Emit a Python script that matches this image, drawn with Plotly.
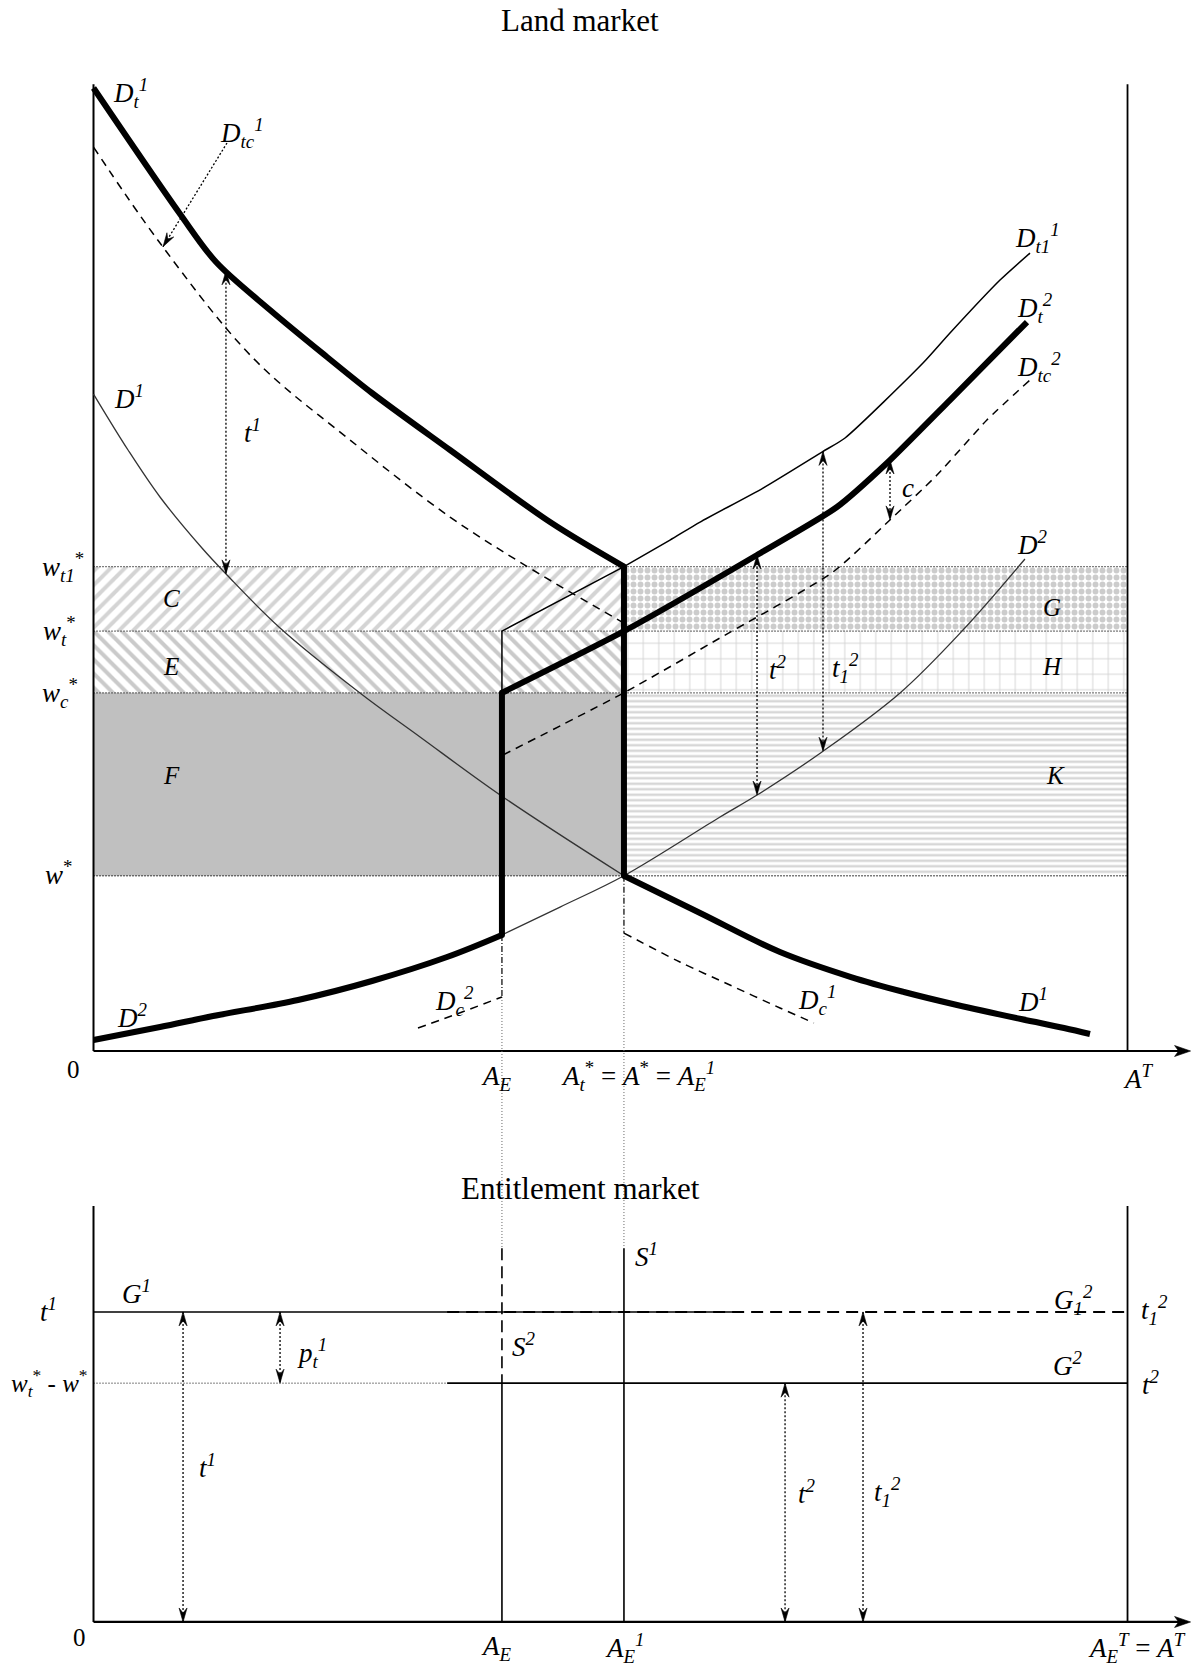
import numpy as np
import plotly.graph_objects as go

# ---------------- model quantities (drawing units) ----------------
A_E = 39.5        # entitlements issued
A_STAR = 51.3     # A_t* = A* = A_E^1
A_T = 100.0       # total land A^T
W_STAR = 18.2     # w*
W_C = 37.2        # w_c*
W_T = 43.6        # w_t*
W_T1 = 50.3       # w_t1*
AXIS_TOP = 100.4
AXIS_END = 106.1

# Land market demand curves
dt1_x = [0, 8.37, 11.85, 17.07, 22.58, 26.93, 34.48, 44.15, A_STAR]
dt1_y = [100.0, 86.92, 81.93, 76.95, 72.07, 68.33, 62.41, 54.93, W_T1]

dtc1_x = [0, 6.43, 15.43, 24.81, 34.48, 42.5, A_STAR]
dtc1_y = [93.87, 83.9, 71.96, 63.45, 55.45, 49.95, 44.44]

d1_x = [0, 3.34, 6.43, 10.49, 12.91, 18.04, 25.77, 31.58, 39.6, A_STAR,
        58.66, 66.39, 73.26, 78.38, 83.51, 89.7, 93.86, 96.37]
d1_y = [68.22, 62.41, 57.53, 52.23, 49.43, 43.93, 37.18, 32.61, 26.38, W_STAR,
        14.33, 10.28, 7.68, 6.13, 4.78, 3.32, 2.39, 1.77]

dc1_x = [A_STAR, 56.71, 61.55, 66.39, 69.67]
dc1_y = [12.25, 9.24, 6.85, 4.47, 2.91]

d2_x = [0, 6.43, 11.56, 19.78, 26.93, 34.19, A_E, 45.12, A_STAR,
        60.59, 64.17, 70.45, 78.0, 84.09, 90.08]
d2_y = [1.14, 2.49, 3.63, 5.3, 7.27, 9.76, 12.05, 14.95, W_STAR,
        24.3, 26.58, 31.05, 37.18, 43.72, 51.09]

dc2_x = [31.38, 35.4, A_E]
dc2_y = [2.39, 3.95, 5.61]

dt2_x = [A_E, A_STAR, 64.17, 71.9, 76.74, 82.83, 90.28]
dt2_y = [W_C, W_T, 51.51, 56.49, 61.06, 67.6, 75.7]

dt11_x = [A_E, A_STAR, 55.75, 58.66, 64.75, 70.45, 72.68, 80.22, 82.83, 87.67, 90.57]
dt11_y = [W_T, W_T1, 53.06, 54.93, 58.46, 62.2, 63.66, 71.44, 74.56, 80.06, 82.86]

dtc2_x = [39.6, A_STAR, 60.59, 71.51, 77.02, 81.57, 86.4, 90.57]
dtc2_y = [30.74, W_C, 42.89, 49.74, 55.14, 59.81, 65.52, 69.68]

# vertical distances marked with arrows (x positions)
ARROW_T1_X = 12.81
ARROW_T2_X = 64.17
ARROW_T12_X = 70.55
ARROW_C_X = 77.03
POINTER_FROM = (12.91, 94.29)
POINTER_TO_X = 6.72

# ---------------- entitlement market ----------------
ENT_BASE = -59.29     # vertical offset of the lower diagram
T1 = 32.2             # t^1 = t_1^2
T2 = 24.8             # t^2 = w_t* - w*
ENT_TOP = 43.2
S_TOP = 38.8
G1_END = 62.2
G12_START = 34.2
ent_arrow_x = {"t1": 8.66, "p": 18.04, "t2": 66.88, "t12": 74.42}

# ---------------- figure frame ----------------
FIG_W, FIG_H = 1203, 1668
X_RANGE = [-9.043, 107.30]
Y_RANGE = [-64.07, 109.14]
PX_X = (X_RANGE[1] - X_RANGE[0]) / FIG_W
PX_Y = (Y_RANGE[1] - Y_RANGE[0]) / FIG_H

FONT = "Liberation Serif"
THICK = 6
fig = go.Figure()


def add_line(x, y, width=1.4, dash="solid", color="black", smooth=None):
    line = dict(width=width, dash=dash, color=color)
    if smooth:
        line.update(shape="spline", smoothing=smooth)
    fig.add_trace(go.Scatter(x=list(x), y=list(y), mode="lines", line=line,
                             hoverinfo="skip", showlegend=False))


def add_joint(x, y, size=THICK):
    fig.add_trace(go.Scatter(x=[x], y=[y], mode="markers",
                             marker=dict(size=size, color="black", line=dict(width=0)),
                             hoverinfo="skip", showlegend=False))


def add_rect(x0, x1, y0, y1, fillcolor=None, pattern=None):
    kw = dict(x=[x0, x1, x1, x0, x0], y=[y0, y0, y1, y1, y0], mode="lines",
              line=dict(width=0, color="rgba(0,0,0,0)"), fill="toself",
              hoverinfo="skip", showlegend=False)
    if pattern:
        kw["fillpattern"] = pattern
        kw["fillcolor"] = "white"
    else:
        kw["fillcolor"] = fillcolor
    fig.add_trace(go.Scatter(**kw))


def add_head(tx, ty, dx, dy, length=14, half=4, notch=5):
    # notched arrowhead; direction given in data units, shaped in screen pixels
    px, py = dx / PX_X, dy / PX_Y
    n = (px ** 2 + py ** 2) ** 0.5
    ux, uy = px / n, py / n
    vx, vy = -uy, ux
    pts = [(0, 0), (-length, half), (-length + notch, 0), (-length, -half), (0, 0)]
    xs = [tx + (a * ux + b * vx) * PX_X for a, b in pts]
    ys = [ty + (a * uy + b * vy) * PX_Y for a, b in pts]
    fig.add_trace(go.Scatter(x=xs, y=ys, mode="lines", fill="toself",
                             fillcolor="black", line=dict(color="black", width=0.6),
                             hoverinfo="skip", showlegend=False))


def add_double_arrow(x, y_top, y_bot):
    add_line([x, x], [y_top, y_bot], width=1.3, dash="2px,2px")
    add_head(x, y_top, 0, 1)
    add_head(x, y_bot, 0, -1)


def label(x, y, text, anchor="left", size=25):
    fig.add_annotation(x=x, y=y, xref="x", yref="y", text=text, showarrow=False,
                       xanchor=anchor, yanchor="middle",
                       font=dict(family=FONT, size=size, color="black"))


def at(xs, ys, x):
    return float(np.interp(x, xs, ys))


# ---------------- shaded areas ----------------
add_rect(0, A_STAR, W_T, W_T1, pattern=dict(shape="/", fgcolor="#a9a9a9", bgcolor="white", size=10, solidity=0.4))
add_rect(0, A_STAR, W_C, W_T, pattern=dict(shape="\\", fgcolor="#969696", bgcolor="white", size=10, solidity=0.4))
add_rect(0, A_STAR, W_STAR, W_C, fillcolor="#c0c0c0")
add_rect(A_STAR, A_T, W_T, W_T1, pattern=dict(shape=".", fgcolor="#999999", bgcolor="white", size=7, solidity=0.55))
add_rect(A_STAR, A_T, W_C, W_T, pattern=dict(shape="+", fgcolor="#a8a8a8", bgcolor="white", size=15.5, solidity=0.12))
add_rect(A_STAR, A_T, W_STAR, W_C, pattern=dict(shape="-", fgcolor="#b0b0b0", bgcolor="white", size=5.5, solidity=0.45))

for level in (W_T1, W_T, W_C, W_STAR):
    add_line([0, A_T], [level, level], width=1.3, dash="1px,2px")

# ---------------- land market axes ----------------
add_line([0, 0], [0, AXIS_TOP], width=2)
add_line([A_T, A_T], [0, AXIS_TOP], width=1.8)
add_line([0, AXIS_END - 1.0], [0, 0], width=2.2)
add_head(AXIS_END, 0, 1, 0, length=16, half=5.5, notch=4)

# guides from the land market down to the entitlement market
d2_at_AE = at(d2_x, d2_y, A_E)
add_line([A_E, A_E], [d2_at_AE, dc2_y[-1]], width=1.2, dash="6px,2px,1px,2px")
add_line([A_E, A_E], [dc2_y[-1], ENT_BASE + S_TOP], width=1, dash="1px,2px", color="#666666")
add_line([A_STAR, A_STAR], [W_STAR, dc1_y[0]], width=1.2, dash="6px,2px,1px,2px")
add_line([A_STAR, A_STAR], [dc1_y[0], ENT_BASE + S_TOP], width=1, dash="1px,2px", color="#666666")

# ---------------- land market curves ----------------
dash_style = "8px,6px"
add_line(dtc1_x, dtc1_y, width=1.5, dash=dash_style, smooth=1.0)
add_line(dtc2_x, dtc2_y, width=1.5, dash=dash_style, smooth=0.6)
add_line(dc1_x, dc1_y, width=1.5, dash=dash_style, smooth=0.8)
add_line(dc2_x, dc2_y, width=1.5, dash=dash_style, smooth=0.8)

split1 = d1_x.index(A_STAR)
split2 = d2_x.index(A_E)
add_line(d1_x[:split1 + 1], d1_y[:split1 + 1], width=1.3, color="#333333", smooth=1.0)
add_line(d2_x[split2:], d2_y[split2:], width=1.3, color="#333333", smooth=1.0)

# D_t1^1: vertical step at A_E, straight stretch to A*, then the curve
add_line([A_E, A_E, A_STAR], [W_C, W_T, W_T1], width=1.5)
add_line(dt11_x[1:], dt11_y[1:], width=1.5, smooth=0.6)

# thick effective demand paths
add_line(dt1_x, dt1_y, width=THICK, smooth=0.9)
add_line([A_STAR, A_STAR], [W_T1, W_STAR], width=THICK)
add_line(d1_x[split1:], d1_y[split1:], width=THICK, smooth=1.0)
add_line(d2_x[:split2 + 1], d2_y[:split2 + 1], width=THICK, smooth=1.0)
add_line([A_E, A_E], [d2_y[split2], W_C], width=THICK)
add_line(dt2_x, dt2_y, width=THICK, smooth=0.6)
for jx, jy in ((A_STAR, W_T1), (A_STAR, W_STAR), (A_E, d2_y[split2]), (A_E, W_C)):
    add_joint(jx, jy)

# ---------------- arrows in the land market ----------------
add_double_arrow(ARROW_T1_X, at(dt1_x, dt1_y, ARROW_T1_X), at(d1_x, d1_y, ARROW_T1_X))
add_double_arrow(ARROW_T2_X, at(dt2_x, dt2_y, ARROW_T2_X), at(d2_x, d2_y, ARROW_T2_X))
add_double_arrow(ARROW_T12_X, at(dt11_x, dt11_y, ARROW_T12_X), at(d2_x, d2_y, ARROW_T12_X))
add_double_arrow(ARROW_C_X, at(dt2_x, dt2_y, ARROW_C_X), at(dtc2_x, dtc2_y, ARROW_C_X))

ptip_y = at(dtc1_x, dtc1_y, POINTER_TO_X)
add_line([POINTER_FROM[0], POINTER_TO_X], [POINTER_FROM[1], ptip_y], width=1.3, dash="2px,2px")
add_head(POINTER_TO_X, ptip_y, POINTER_TO_X - POINTER_FROM[0], ptip_y - POINTER_FROM[1])

# ---------------- entitlement market ----------------
B = ENT_BASE
add_line([0, 0], [B, B + ENT_TOP], width=2)
add_line([A_T, A_T], [B, B + ENT_TOP], width=1.8)
add_line([0, AXIS_END - 1.0], [B, B], width=2.2)
add_head(AXIS_END, B, 1, 0, length=16, half=5.5, notch=4)

add_line([G12_START, A_T], [B + T1, B + T1], width=2, dash="12px,7px")    # G_1^2
add_line([0, G1_END], [B + T1, B + T1], width=1.5)                      # G^1
add_line([0, G12_START], [B + T2, B + T2], width=1, dash="1px,2px")
add_line([G12_START, A_T], [B + T2, B + T2], width=1.6)                  # G^2

add_line([A_E, A_E], [B + S_TOP, B + T2], width=1.6, dash="12px,6px")    # S^2
add_line([A_E, A_E], [B + T2, B], width=1.6)
add_line([A_STAR, A_STAR], [B + S_TOP, B], width=1.6)                    # S^1

add_double_arrow(ent_arrow_x["t1"], B + T1, B)
add_double_arrow(ent_arrow_x["p"], B + T1, B + T2)
add_double_arrow(ent_arrow_x["t2"], B + T2, B)
add_double_arrow(ent_arrow_x["t12"], B + T1, B)

# ---------------- labels ----------------
label(47.05, 106.96, "Land market", anchor="center", size=31)
label(47.05, B + 45.06, "Entitlement market", anchor="center", size=31)

label(1.69, 99.48, "<i>D</i><sub><i>t</i></sub><sup><i>1</i></sup>", size=27)
label(12.04, 95.33, "<i>D</i><sub><i>tc</i></sub><sup><i>1</i></sup>", size=27)
label(1.79, 67.96, "<i>D</i><sup><i>1</i></sup>", size=27)
label(14.36, 64.38, "<i>t</i><sup><i>1</i></sup>", size=27)
label(7.5, 46.94, "<i>C</i>", anchor="center")
label(7.5, 39.98, "<i>E</i>", anchor="center")
label(7.5, 28.66, "<i>F</i>", anchor="center")
label(-0.73, W_T1, "<i>w</i><sub><i>t1</i></sub><sup>*</sup>", anchor="right", size=27)
label(-1.5, W_T, "<i>w</i><sub><i>t</i></sub><sup>*</sup>", anchor="right", size=27)
label(-1.31, W_C, "<i>w</i><sub><i>c</i></sub><sup>*</sup>", anchor="right", size=27)
label(-1.89, W_STAR + 0.3, "<i>w</i><sup>*</sup>", anchor="right", size=27)
label(-1.89, -1.87, "0", anchor="center")
label(38.93, -2.8, "<i>A</i><sub><i>E</i></sub>", anchor="center", size=27)
label(52.66, -2.6, "<i>A</i><sub><i>t</i></sub><sup>*</sup> = <i>A</i><sup>*</sup> = <i>A</i><sub><i>E</i></sub><sup><i>1</i></sup>", anchor="center", size=27)
label(101.02, -2.7, "<i>A</i><sup><i>T</i></sup>", anchor="center", size=27)

label(88.93, 84.43, "<i>D</i><sub><i>t1</i></sub><sup><i>1</i></sup>", size=27)
label(89.12, 77.15, "<i>D</i><sub><i>t</i></sub><sup><i>2</i></sup>", size=27)
label(89.12, 71.03, "<i>D</i><sub><i>tc</i></sub><sup><i>2</i></sup>", size=27)
label(78.0, 58.46, "<i>c</i>", size=27)
label(89.12, 52.75, "<i>D</i><sup><i>2</i></sup>", size=27)
label(92.7, 46.07, "<i>G</i>", anchor="center")
label(92.7, 39.98, "<i>H</i>", anchor="center")
label(92.99, 28.66, "<i>K</i>", anchor="center")
label(65.13, 39.77, "<i>t</i><sup><i>2</i></sup>", size=27)
label(71.22, 39.77, "<i>t</i><sub><i>1</i></sub><sup><i>2</i></sup>", size=27)
label(2.08, 3.63, "<i>D</i><sup><i>2</i></sup>", size=27)
label(32.83, 5.19, "<i>D</i><sub><i>c</i></sub><sup><i>2</i></sup>", size=27)
label(67.94, 5.3, "<i>D</i><sub><i>c</i></sub><sup><i>1</i></sup>", size=27)
label(89.22, 5.3, "<i>D</i><sup><i>1</i></sup>", size=27)

label(-4.4, B + 32.4, "<i>t</i><sup><i>1</i></sup>", anchor="center", size=27)
label(2.56, B + 34.27, "<i>G</i><sup><i>1</i></sup>", size=27)
label(-0.34, B + T2, "<i>w</i><sub><i>t</i></sub><sup>*</sup> - <i>w</i><sup>*</sup>", anchor="right", size=25)
label(19.49, B + 27.93, "<i>p</i><sub><i>t</i></sub><sup><i>1</i></sup>", size=27)
label(52.18, B + 38.11, "<i>S</i><sup><i>1</i></sup>", size=27)
label(40.28, B + 28.76, "<i>S</i><sup><i>2</i></sup>", size=27)
label(92.7, B + 33.44, "<i>G</i><sub><i>1</i></sub><sup><i>2</i></sup>", size=27)
label(101.11, B + 32.4, "<i>t</i><sub><i>1</i></sub><sup><i>2</i></sup>", size=27)
label(92.6, B + 26.79, "<i>G</i><sup><i>2</i></sup>", size=27)
label(101.21, B + T2, "<i>t</i><sup><i>2</i></sup>", size=27)
label(10.01, B + 16.2, "<i>t</i><sup><i>1</i></sup>", size=27)
label(67.94, B + 13.5, "<i>t</i><sup><i>2</i></sup>", size=27)
label(75.29, B + 13.5, "<i>t</i><sub><i>1</i></sub><sup><i>2</i></sup>", size=27)
label(-1.31, B - 1.66, "0", anchor="center")
label(38.93, B - 2.75, "<i>A</i><sub><i>E</i></sub>", anchor="center", size=27)
label(51.4, B - 2.75, "<i>A</i><sub><i>E</i></sub><sup><i>1</i></sup>", anchor="center", size=27)
label(100.9, B - 2.75, "<i>A</i><sub><i>E</i></sub><sup><i>T</i></sup> = <i>A</i><sup><i>T</i></sup>", anchor="center", size=27)

fig.update_layout(
    width=FIG_W, height=FIG_H,
    margin=dict(l=0, r=0, t=0, b=0),
    paper_bgcolor="white", plot_bgcolor="white",
    showlegend=False,
    xaxis=dict(range=X_RANGE, visible=False, fixedrange=True),
    yaxis=dict(range=Y_RANGE, visible=False, fixedrange=True),
)

fig.write_html("out.html")
